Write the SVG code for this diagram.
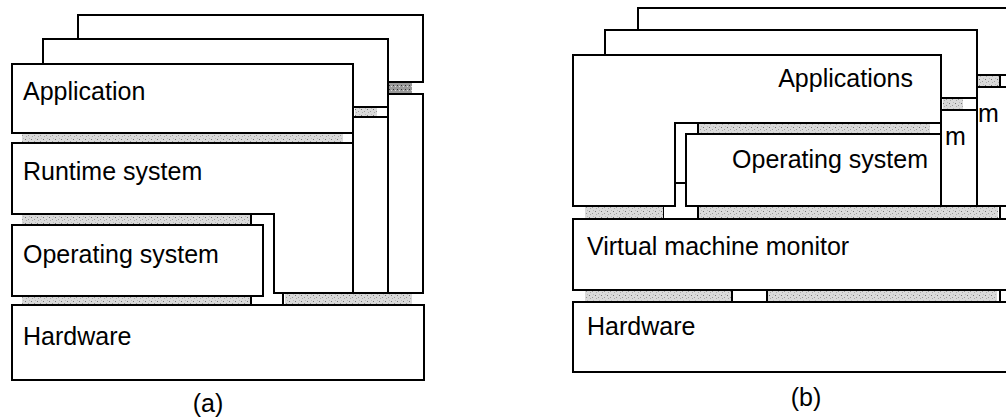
<svg xmlns="http://www.w3.org/2000/svg" width="1006" height="419" viewBox="0 0 1006 419">
<defs>
<pattern id="stip" width="6" height="6" patternUnits="userSpaceOnUse">
<rect width="6" height="6" fill="#dadada"/>
<rect x="1" y="1" width="1" height="1" fill="#777"/>
<rect x="4" y="3" width="1" height="1" fill="#999"/>
<rect x="2" y="4" width="1" height="1" fill="#aaa"/>
<rect x="5" y="0" width="1" height="1" fill="#bbb"/>
</pattern>
<pattern id="stipd" width="4" height="4" patternUnits="userSpaceOnUse">
<rect width="4" height="4" fill="#9a9a9a"/>
<rect x="1" y="1" width="1" height="1" fill="#333"/>
<rect x="3" y="2" width="1" height="1" fill="#ddd"/>
</pattern>
</defs>
<style>
.box{fill:#fff;stroke:#000;stroke-width:2;stroke-linejoin:miter}
.strip{fill:url(#stip);stroke:none}
.dstrip{fill:url(#stipd);stroke:none}
.wc{fill:#fff;stroke:#000;stroke-width:2}
.t{font-family:"Liberation Sans",Arial,sans-serif;font-size:25px;fill:#000}
</style>
<rect width="1006" height="419" fill="#fff"/>

<!-- (a) process VM -->
<g id="a-stack3">
<rect class="box" x="78" y="15" width="345" height="67"/>
<rect class="dstrip" x="389" y="83" width="23" height="11"/>
<rect class="box" x="388" y="94" width="35" height="199"/>
</g>
<g id="a-stack2">
<rect class="box" x="43" y="39" width="345" height="68"/>
<rect class="strip" x="355" y="108" width="22" height="9"/>
<rect class="box" x="353" y="117" width="35" height="176"/>
</g>
<g id="a-application">
<rect class="box" x="12" y="64" width="341" height="69"/>
<text class="t" x="23" y="100">Application</text>
</g>
<g id="a-runtime">
<polygon class="box" points="12,143 353,143 353,293 274,293 274,214 12,214"/>
<text class="t" x="23" y="180">Runtime system</text>
</g>
<g id="a-os">
<rect class="box" x="12" y="225" width="251" height="71"/>
<text class="t" x="23" y="263">Operating system</text>
</g>
<g id="a-hardware">
<rect class="box" x="12" y="305" width="412" height="75"/>
<text class="t" x="23" y="345">Hardware</text>
</g>
<g id="a-connectors">
<rect class="strip" x="22" y="134" width="321" height="8"/>
<rect class="strip" x="22" y="215" width="229" height="9"/>
<rect class="strip" x="22" y="297" width="229" height="7"/>
<rect class="strip" x="285" y="294" width="127" height="10"/>
<polygon class="wc" points="251,214 274,214 274,293 283,293 283,305 251,305 251,296 263,296 263,225 251,225"/>
</g>
<text class="t" x="208" y="412" text-anchor="middle">(a)</text>

<!-- (b) system VM -->
<g id="b-stack3">
<rect class="box" x="638" y="8" width="382" height="67"/>
<rect class="strip" x="978" y="76" width="22" height="11"/>
<rect class="wc" x="1000" y="75" width="20" height="12"/>
<rect class="box" x="977" y="87" width="45" height="119"/>
<text class="t" x="978" y="122">m</text>
</g>
<g id="b-stack2">
<rect class="box" x="605" y="30" width="372" height="68"/>
<rect class="strip" x="943" y="99" width="20" height="10"/>
<rect class="box" x="941" y="110" width="36" height="96"/>
<text class="t" x="945" y="145">m</text>
</g>
<g id="b-applications">
<polygon class="box" points="573,55 941,55 941,123 675,123 675,206 573,206"/>
<text class="t" x="913" y="87" text-anchor="end">Applications</text>
</g>
<g id="b-os">
<rect class="box" x="686" y="134" width="255" height="72"/>
<text class="t" x="928" y="168" text-anchor="end">Operating system</text>
</g>
<g id="b-vmm">
<rect class="box" x="573" y="219" width="447" height="71"/>
<text class="t" x="587" y="255">Virtual machine monitor</text>
</g>
<g id="b-hardware">
<rect class="box" x="573" y="302" width="447" height="70"/>
<text class="t" x="587" y="335">Hardware</text>
</g>
<g id="b-connectors">
<rect class="strip" x="698" y="124" width="232" height="9"/>
<polygon class="wc" points="675,123 698,123 698,134 686,134 686,183 675,183"/>
<polygon class="wc" points="675,183 686,183 686,206 698,206 698,219 663,219 663,206 675,206"/>
<rect class="strip" x="585" y="207" width="78" height="11"/>
<rect class="strip" x="699" y="207" width="299" height="11"/>
<rect class="wc" x="1000" y="206" width="20" height="13"/>
<rect class="strip" x="585" y="291" width="147" height="10"/>
<rect class="wc" x="732" y="290" width="35" height="12"/>
<rect class="strip" x="768" y="291" width="229" height="10"/>
<rect class="wc" x="1000" y="290" width="20" height="12"/>
</g>
<text class="t" x="806" y="406" text-anchor="middle">(b)</text>
</svg>
